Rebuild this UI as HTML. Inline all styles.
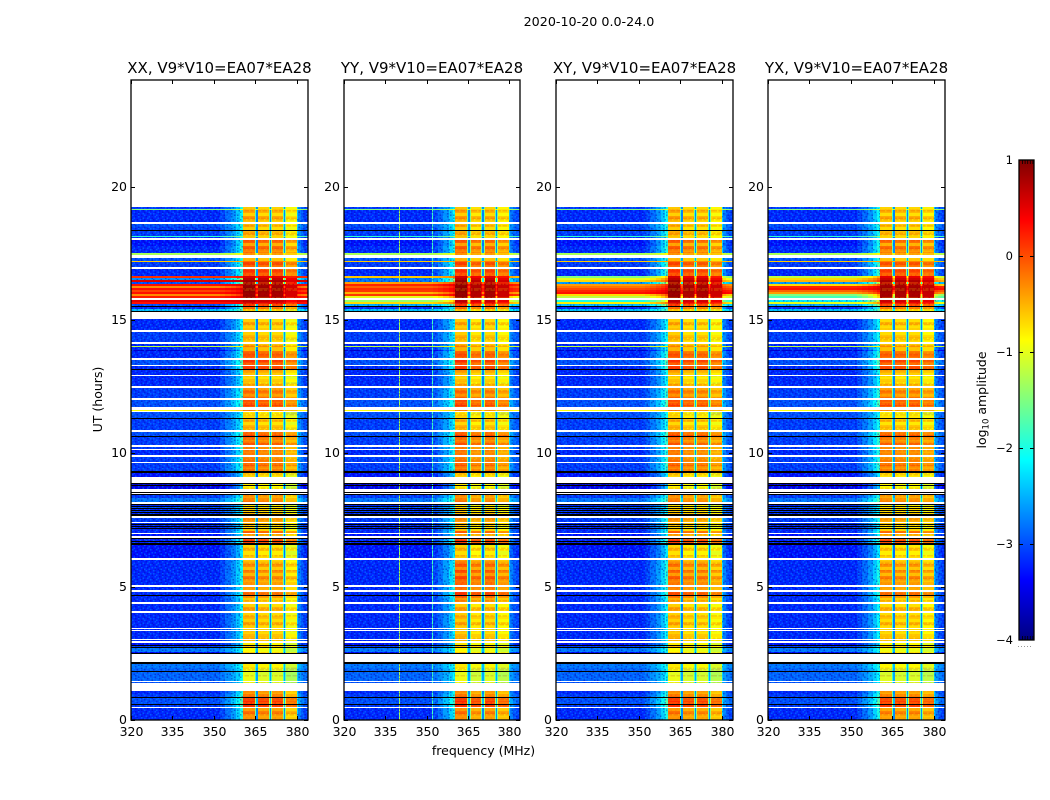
<!DOCTYPE html>
<html>
<head>
<meta charset="utf-8">
<title>Spectrogram 2020-10-20</title>
<style>
html,body{margin:0;padding:0;background:#fff;}
svg{display:block;}
text{font-family:"DejaVu Sans","Liberation Sans",sans-serif;fill:#000;}
</style>
</head>
<body>
<svg id="chart" xmlns="http://www.w3.org/2000/svg" width="1050" height="800" viewBox="0 0 1050 800">
<defs id="defs"></defs>
<rect x="0" y="0" width="1050" height="800" fill="#fff"/>
<text x="589" y="26" font-size="12.7" text-anchor="middle">2020-10-20 0.0-24.0</text>
<text x="483.5" y="755" font-size="12.5" text-anchor="middle">frequency (MHz)</text>
<text transform="translate(102,399.5) rotate(-90)" font-size="12.5" text-anchor="middle">UT (hours)</text>
<text transform="translate(986,400) rotate(-90)" font-size="12.5" text-anchor="middle">log<tspan font-size="8.5" dy="2.5">10</tspan><tspan dy="-2.5"> amplitude</tspan></text>
</svg>
<script>
// ---- Axis ticks ----
const xTicks = [320, 335, 350, 365, 380];
const yTicks = [0, 5, 10, 15, 20];
const colorbarTicks = [1, 0, -1, -2, -3, -4];
const colorbarMinor = [-3.97, -3.94, -3.91, -3.88, -3.85];
const polarizations = ['XX', 'YY', 'XY', 'YX'];

// ---- Time rows shared by the panels: UT start hour (descending) ----
// N = flagged (white), K = masked (black)
const N = null, K = -9;
const rowHour = [
19.24,19.16,19.13,19.01,18.90,18.79,18.68,18.60,18.49,18.38,
18.34,18.19,18.15,18.11,18.08,18.00,17.89,17.78,17.66,17.55,
17.51,17.44,17.33,17.21,17.18,17.06,16.99,16.91,16.80,15.53,
15.49,15.41,15.34,15.30,15.04,14.93,14.81,14.70,14.63,14.55,
14.44,14.33,14.18,14.10,14.03,13.99,13.88,13.84,13.73,13.58,
13.50,13.43,13.31,13.28,13.16,13.13,13.01,12.94,12.90,12.79,
12.68,12.60,12.53,12.45,12.34,12.23,12.11,12.08,12.00,11.89,
11.78,11.74,11.63,11.59,11.55,11.44,11.33,11.29,11.18,11.06,
10.95,10.88,10.80,10.69,10.65,10.61,10.50,10.39,10.31,10.24,
10.16,10.13,10.01,9.94,9.86,9.75,9.68,9.64,9.53,9.41,
9.34,9.26,9.11,8.89,8.85,8.81,8.78,8.66,8.55,8.51,
8.48,8.44,8.33,8.18,8.10,8.06,8.03,7.99,7.95,7.91,
7.88,7.84,7.80,7.76,7.73,7.65,7.58,7.43,7.39,7.35,
7.31,7.28,7.24,7.20,7.16,7.09,7.01,6.98,6.90,6.83,
6.79,6.71,6.68,6.64,6.56,6.45,6.34,6.19,6.08,6.00,
5.96,5.85,5.74,5.63,5.51,5.40,5.29,5.18,5.06,4.99,
4.88,4.80,4.69,4.65,4.58,4.43,4.35,4.24,4.09,4.01,
3.90,3.79,3.68,3.56,3.45,3.41,3.38,3.34,3.23,3.11,
3.04,3.00,2.96,2.89,2.81,2.78,2.74,2.70,2.55,2.51,
2.48,2.18,2.10,1.95,1.84,1.80,1.65,1.50,1.46,1.43,
1.39,1.09,0.98,0.86,0.83,0.71,0.60,0.56,0.49,0.45,
0.34,0.23,0.11];
// log10 amplitude outside the active band, per row
const rowQuiet = [
-3.1,-1.5,-3.2,-3.2,-3.2,-3.2,N,-3,-3.1,K,
-3.1,-3.1,-1.9,-3.2,N,-3.3,-3.3,-3.2,-3.2,-3.2,
-1.3,N,-3,-.6,-3.1,-3.1,N,-3.2,-3.2,K,
-3.2,-2.4,K,N,-3.2,-3.2,-3.2,-3.2,N,-3.1,
-3.1,-3.1,N,-3.2,-1.2,-3.2,-3.6,-3.2,-3.2,N,
-3,-3,N,-3.2,K,-3.2,-3.2,N,-3.2,-3.2,
-3.2,-3.2,N,-3.1,-3.1,-3.1,-3.1,N,-3,-3,
-3,N,-.9,N,-3,-3,K,-3.1,-3.1,-3.1,
-3.1,N,-3,-3,K,-3.1,-3.1,-3.1,N,-3.1,
N,-3.2,-3.2,N,-3.1,-3.1,N,-3.1,-3.1,-3.1,
K,-3.3,N,K,-3.6,K,-3.5,N,K,N,
K,-3.1,-2.8,N,K,-3.2,K,-3,K,-3.2,
K,-3.1,K,-3.2,K,N,-3.1,N,-3.2,K,
-3.2,K,-3.2,K,-3.2,-3.2,N,-3.3,N,K,
-3.2,K,-3.2,K,-3.3,-3.3,-3.3,-3.3,N,-3.2,
-3.2,-3.2,-3.2,-3.2,-3.2,-3.2,-3.2,-3.2,N,-3.2,
N,-3.2,K,-3.2,-3.2,N,-3.2,-3.2,N,-3.2,
-3.2,-3.2,-3.2,-3.2,N,-3.2,N,-3.2,-3.2,-3.2,
N,-3.2,N,-3.3,K,-3.1,K,-2.8,-3.4,K,
N,K,-2.8,-2.9,K,-2.9,-2.9,-2.9,N,-3,
N,-3.2,-3.1,K,-3,-3,K,-3.1,N,-3.2,
-3.2,-3.2,-3.2];
// log10 amplitude inside the active band, per row
const rowActive = [
-.6,-.5,-.45,-.65,-.4,-.6,N,-.5,-.65,K,
-.5,-.65,-.6,-.6,N,-.1,-.4,-.1,-.3,-.1,
-.3,N,-.5,-.2,0,-.15,N,.1,.05,K,
-.2,-.7,K,N,-.65,-.5,-.65,-.55,N,-.65,
-.5,-.65,N,-.5,-.3,-.5,-.5,-.15,-.05,N,
.1,0,N,.05,K,-.4,-.55,N,-.7,-.55,
-.7,-.5,N,-.3,-.15,-.3,-.15,N,-.05,.05,
-.1,N,-.2,N,-.85,-.7,K,-.5,-.7,-.5,
-.65,N,-.05,.05,K,-.1,-.25,-.1,N,-.2,
N,-.3,-.15,N,-.35,-.2,N,-.1,-.25,-.1,
K,-.7,N,K,-.8,K,-.85,N,K,N,
K,-.4,-.2,N,K,-.8,K,-.7,K,-.6,
K,-.7,K,-.5,K,N,-.4,N,-.5,K,
-.7,K,-.7,K,-.6,-.1,N,-.5,N,K,
.05,K,.05,K,-.7,-.6,-.75,-.65,N,-.6,
-.55,-.35,-.55,-.3,-.5,-.25,-.45,-.3,N,-.4,
N,-.2,K,-.3,-.6,N,-.65,-.5,N,-.65,
-.5,-.65,-.5,-.65,N,-.6,N,-.65,-.5,-.6,
N,-.6,N,-.8,K,-.6,K,-.9,-.7,K,
N,K,-.8,-.95,K,-1.05,-1,-1,N,-1,
N,-.35,-.15,K,0,.15,K,.1,N,-.35,
-.2,-.4,-.3];

// ---- Bright interference band around 16 UT, different in each panel ----
const hotHour = [16.65,16.58,16.50,16.43,16.35,16.28,16.20,16.13,16.05,15.98,15.90,15.83,15.75,15.68,15.60];
const hotActive = [.55,.7,.85,.75,.9,.9,.9,.9,.9,.9,.85,N,.7,.55,.2];
const hotQuietXX = [.15,-2.7,.55,-3,.3,-.3,.3,.05,.3,-.3,.25,N,.5,.3,-3];
const hotQuietYY = [-.6,-2.8,-2.8,-.4,.2,-.1,.15,.1,-.5,.1,-1,N,-1.4,-.7,-2.5];
const hotQuietXY = [-1.5,-1,-.7,-2.6,-.4,-.2,0,.2,.3,-.7,-1.2,N,-2,-.8,-2.4];
const hotQuietYX = [-1.2,-.7,-.5,-2.6,-.7,.2,.3,-.1,-.4,-1.5,-1.8,N,-2.2,-1,-2.5];

// ---- Frequency structure: band start (MHz), share of active level, block id ----
const bandStart = [320,352,354,356,358,359.5,360.5,364.9,365.2,365.8,366.1,369.9,370.2,370.8,371.1,374.9,375.2,375.8,376.1,380,380.5,381.5,382.5];
const bandShare = [0,.05,.12,.2,.3,.42,1,.55,.18,.6,1,.55,.18,.6,1,.55,.18,.6,1,.3,.15,.08,.04];
const bandBlock = [-1,-1,-1,-1,-1,-1,0,-1,-1,-1,1,-1,-1,-1,2,-1,-1,-1,3,-1,-1,-1,-1];
const blockOffsetXX = [.02,-.05,-.05,-.32];
const blockOffsetYY = [.04,-.13,-.05,-.25];
const blockOffsetXY = [.02,-.1,-.09,-.27];
const blockOffsetYX = [-.05,-.09,-.07,-.22];
// Extra active level in the 4.5 to 6 UT span
const midSpanBoost = [0, .25, .15, .05];
// Narrow interference channels: MHz and log10 amplitude
const rfiFreqYY = [340, 352];
const rfiLevelYY = [-1.3, -1.8];

// ---- Hand-typed grain (c = lighter, n = darker, . = none) ----
const grainQuiet = [
'.c..n.c...n..c.n','n..c...n.c..n...','..n.c.c...n.c..c','c....n..c...n.n.',
'.n.c...c..n.c...','..c..n...c....nc','n...c.n.c..n.c..','.c.n....n.c...n.',
'..n..c.c...n..c.','c..c...n.n.c...n'];
const grainActive = [
'rr.rrr.rr.rrrr.r','................','yyy.yyyy.yy.yyyy','yy.yyy.yyyy.yyy.',
'................','r.rrrr.rrr.rr.rr','.rrr.rr.rrrr.rrr','................',
'yyyy.yy.yyy.yyyy','.yy.yyy.yy.yyy.y'];

// ---- Layout ----
const plotTop = 80, plotBottom = 720;
const panelLeft = [131, 344, 556, 768], panelRight = [308, 520, 733, 945];
const barLeft = 1019, barRight = 1034, barTop = 160, barBottom = 640;
const SVGNS = 'http://www.w3.org/2000/svg';
const svg = document.getElementById('chart');
const defs = document.getElementById('defs');

function make(tag, parent, attrs) {
  const el = document.createElementNS(SVGNS, tag);
  for (const k in attrs) el.setAttribute(k, attrs[k]);
  parent.appendChild(el);
  return el;
}
function clamp(v) { return Math.max(0, Math.min(1, v)); }
function jet(level) {
  const t = clamp((level + 4) / 5);
  const r = clamp(1.5 - Math.abs(4 * t - 3));
  const g = clamp(1.5 - Math.abs(4 * t - 2));
  const b = clamp(1.5 - Math.abs(4 * t - 1));
  return 'rgb(' + Math.round(r * 255) + ',' + Math.round(g * 255) + ',' + Math.round(b * 255) + ')';
}
function xScale(p, mhz) {
  return panelLeft[p] + (mhz - 320) * (panelRight[p] - panelLeft[p]) / 64;
}
function yScale(hour) {
  return plotBottom - hour * (plotBottom - plotTop) / 24;
}
function barScale(level) {
  return barBottom - (level + 4) * (barBottom - barTop) / 5;
}

function buildGrain(id, lines, colors, opacity) {
  const cell = 1.5;
  const pat = make('pattern', defs, {id: id, patternUnits: 'userSpaceOnUse', width: lines[0].length * cell, height: lines.length * cell});
  lines.forEach(function (line, r) {
    for (let c = 0; c < line.length; c++) {
      const col = colors[line[c]];
      if (!col) continue;
      make('rect', pat, {x: c * cell, y: r * cell, width: cell, height: cell, fill: col, 'fill-opacity': opacity});
    }
  });
}
buildGrain('grain-quiet', grainQuiet, {c: '#00b0ff', n: '#0000a0'}, .38);
buildGrain('grain-active', grainActive, {r: '#e00000', y: '#ffee00'}, .16);

const hotQuietByPanel = [hotQuietXX, hotQuietYY, hotQuietXY, hotQuietYX];
const blockOffsetByPanel = [blockOffsetXX, blockOffsetYY, blockOffsetXY, blockOffsetYX];

polarizations.forEach(function (pol, p) {
  const key = pol.toLowerCase();
  const g = make('g', svg, {});
  
  

  // merge shared rows and this panel's bright band, newest hour first
  const rows = [];
  rowHour.forEach(function (h, i) { rows.push({h: h, q: rowQuiet[i], a: rowActive[i]}); });
  hotHour.forEach(function (h, i) { rows.push({h: h, q: hotQuietByPanel[p][i], a: hotActive[i]}); });
  rows.sort(function (a, b) { return b.h - a.h; });

  const heat = make('g', g, {'shape-rendering': 'crispEdges'});
  
  
  const left = panelLeft[p];
  const activeStart = Math.round(xScale(p, 360.5));
  const activeEnd = Math.round(xScale(p, 380));

  // grain first, band cells for the gaps drawn after so channel gaps stay clean
  rows.forEach(function (row, i) {
    if (row.q === N) return;
    const endHour = i + 1 < rows.length ? rows[i + 1].h : 0;
    const y0 = Math.round(yScale(row.h));
    const y1 = Math.round(yScale(endHour));
    if (y1 <= y0) return;
    const boost = (row.h <= 6 && row.h > 4.5) ? midSpanBoost[p] : 0;
    bandStart.forEach(function (start, b) {
      const stop = b + 1 < bandStart.length ? bandStart[b + 1] : 384;
      const x0 = Math.round(xScale(p, start));
      const x1 = Math.round(xScale(p, stop));
      if (x1 <= x0) return;
      let fill = '#000';
      if (row.q !== K) {
        const act = row.a + boost;
        const off = bandBlock[b] >= 0 ? blockOffsetByPanel[p][bandBlock[b]] : 0;
        fill = jet(row.q + bandShare[b] * (act - row.q) + off);
      }
      const cell = make('rect', heat, {x: x0, y: y0, width: x1 - x0, height: y1 - y0, fill: fill});
      
      
    });
    if (row.q === K) return;
    if (pol === 'YY') {
      rfiFreqYY.forEach(function (f, j) {
        const x0 = Math.round(xScale(p, f));
        const line = make('rect', heat, {x: x0, y: y0, width: 1, height: y1 - y0, fill: jet(Math.max(row.q, rfiLevelYY[j]))});
        
        
      });
    }
    if (row.q < -2) {
      const grainA = make('rect', heat, {x: left, y: y0, width: activeStart - left, height: y1 - y0, fill: 'url(#grain-quiet)'});
      
      
      const grainB = make('rect', heat, {x: activeEnd, y: y0, width: panelRight[p] - activeEnd, height: y1 - y0, fill: 'url(#grain-quiet)'});
      
      
    }
    bandStart.forEach(function (start, b) {
      if (bandBlock[b] < 0) return;
      const x0 = Math.round(xScale(p, start));
      const x1 = Math.round(xScale(p, bandStart[b + 1]));
      const grainC = make('rect', heat, {x: x0, y: y0, width: x1 - x0, height: y1 - y0, fill: 'url(#grain-active)'});
      
      
    });
  });

  // frame
  const frame = make('rect', g, {x: left, y: plotTop, width: panelRight[p] - left, height: plotBottom - plotTop, fill: 'none', stroke: '#000', 'stroke-width': 1.3});
  
  

  // x ticks
  xTicks.forEach(function (t) {
    const x = Math.round(xScale(p, t)) + .5;
    const tickB = make('line', g, {x1: x, x2: x, y1: plotBottom, y2: plotBottom - 4, stroke: '#000', 'stroke-width': 1});
    
    
    const tickT = make('line', g, {x1: x, x2: x, y1: plotTop, y2: plotTop + 4, stroke: '#000', 'stroke-width': 1});
    
    
    const lab = make('text', g, {x: x, y: 736, 'font-size': 12.5, 'text-anchor': 'middle'});
    lab.textContent = t;
    
    
  });
  // y ticks
  yTicks.forEach(function (t) {
    const y = Math.round(yScale(t)) + .5;
    const tickL = make('line', g, {x1: left, x2: left + 4, y1: y, y2: y, stroke: '#000', 'stroke-width': 1});
    
    
    const tickR = make('line', g, {x1: panelRight[p], x2: panelRight[p] - 4, y1: y, y2: y, stroke: '#000', 'stroke-width': 1});
    
    
    const lab = make('text', g, {x: left - 4, y: y + 3.5, 'font-size': 12.5, 'text-anchor': 'end'});
    lab.textContent = t;
    
    
  });
  // title
  const title = make('text', g, {x: (left + panelRight[p]) / 2, y: 73, 'font-size': 15, 'text-anchor': 'middle'});
  title.textContent = pol + ', V9*V10=EA07*EA28';
  
  
});

// ---- Colorbar ----
const bar = make('g', svg, {});


const barFill = make('g', bar, {'shape-rendering': 'crispEdges'});


for (let py = barTop; py < barBottom; py++) {
  const level = -4 + 5 * (barBottom - py - .5) / (barBottom - barTop);
  const strip = make('rect', barFill, {x: barLeft, y: py, width: barRight - barLeft, height: 1, fill: jet(level)});
  
  
}
const barFrame = make('rect', bar, {x: barLeft, y: barTop, width: barRight - barLeft, height: barBottom - barTop, fill: 'none', stroke: '#000', 'stroke-width': 1.3});


colorbarTicks.forEach(function (t) {
  const y = Math.round(barScale(t));
  if (t !== 1 && t !== -4) {
    const a = make('line', bar, {x1: barLeft, x2: barLeft + 4, y1: y + .5, y2: y + .5, stroke: '#000'});
    
    
    const b = make('line', bar, {x1: barRight, x2: barRight - 4, y1: y + .5, y2: y + .5, stroke: '#000'});
    
    
  }
  const lab = make('text', bar, {x: 1013, y: y + 4, 'font-size': 11.5, 'text-anchor': 'end'});
  lab.textContent = String(t).replace('-', '\u2212');
  
  
});
colorbarMinor.forEach(function (m, i) {
  const x = barLeft + 3.5 + i * 2.6;
  const top = make('line', bar, {x1: x, x2: x, y1: barTop, y2: barTop + 4, stroke: '#000', 'stroke-width': .8});
  
  
  const bottom = make('line', bar, {x1: x, x2: x, y1: barBottom, y2: barBottom - 4, stroke: '#000', 'stroke-width': .8});
  
  
  const dot = make('rect', bar, {x: barLeft - 1 + i * 3, y: 646, width: 1, height: 1, fill: '#999'});
  
  
});
</script>
</body>
</html>
